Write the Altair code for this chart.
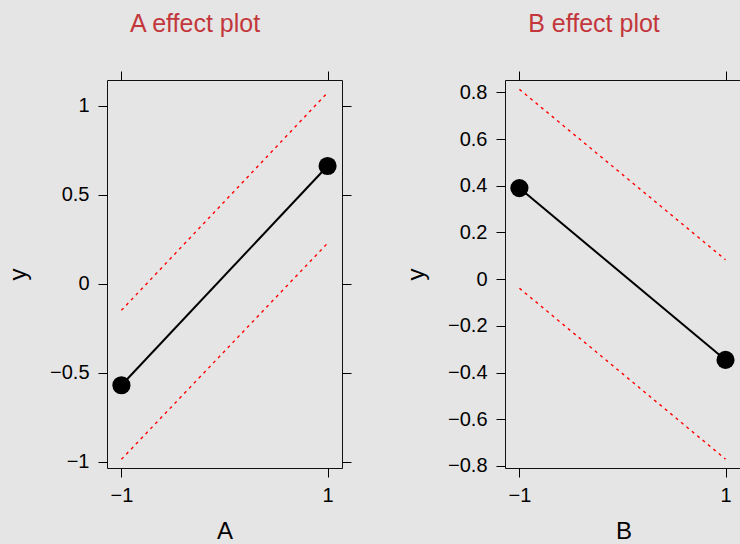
import altair as alt
import pandas as pd

# ---- data ----
x_levels = [-1, 1]

a_fit = [-0.569, 0.663]
a_lower = [-0.985, 0.229]
a_upper = [-0.148, 1.075]

b_fit = [0.390, -0.346]
b_lower = [-0.039, -0.771]
b_upper = [0.813, 0.083]

x_ticks = [-1, 1]
a_yticks = [-1, -0.5, 0, 0.5, 1]
b_yticks = [-0.8, -0.6, -0.4, -0.2, 0, 0.2, 0.4, 0.6, 0.8]

a_ydomain = [-1.034, 1.146]
b_ydomain = [-0.809, 0.853]

FONT = "Liberation Sans"
TITLE_COLOR = "#C3373C"
BG = "#E5E5E5"


def tick_axis(**kw):
    base = dict(grid=False, domain=False, ticks=True, tickSize=9, tickWidth=1,
                tickColor="black", labelFont=FONT, labelFontSize=20,
                labelColor="black", format="~g")
    base.update(kw)
    return alt.Axis(**base)


def panel(xname, title, fit, lower, upper, ydomain, yticks, width, xdomain):
    df = pd.DataFrame({"x": x_levels, "fit": fit, "lower": lower, "upper": upper})
    base = alt.Chart(df)
    xs = alt.Scale(domain=xdomain, nice=False, zero=False)
    ys = alt.Scale(domain=ydomain, nice=False, zero=False)

    x_bottom = alt.X("x:Q", scale=xs, axis=tick_axis(
        orient="bottom", values=x_ticks, labelPadding=8, title=xname,
        titleFont=FONT, titleFontSize=24, titleFontWeight="normal",
        titleColor="black", titleY=70, titleBaseline="alphabetic"))
    y_left = alt.Y("lower:Q", scale=ys, axis=tick_axis(
        orient="left", values=yticks, labelPadding=9, title="y",
        titleFont=FONT, titleFontSize=24, titleFontWeight="normal",
        titleColor="black", titleX=-82, titleAngle=270,
        titleBaseline="alphabetic"))
    x_top = alt.X("x:Q", scale=xs, axis=tick_axis(
        orient="top", values=x_ticks, labels=False, title=None))
    y_right = alt.Y("upper:Q", scale=ys, axis=tick_axis(
        orient="right", values=yticks, labels=False, title=None))

    ci_style = dict(color="#FF0000", strokeWidth=1.4, strokeDash=[3, 4])
    lower_line = base.mark_line(**ci_style).encode(x=x_bottom, y=y_left)
    upper_line = base.mark_line(**ci_style).encode(x=x_top, y=y_right)
    fit_line = base.mark_line(color="black", strokeWidth=2).encode(
        x=alt.X("x:Q", scale=xs, axis=None),
        y=alt.Y("fit:Q", scale=ys, axis=None))
    fit_pts = base.mark_circle(color="black", opacity=1, size=330).encode(
        x=alt.X("x:Q", scale=xs, axis=None),
        y=alt.Y("fit:Q", scale=ys, axis=None))

    return alt.layer(lower_line, upper_line, fit_line, fit_pts).resolve_axis(
        x="independent", y="independent"
    ).properties(
        width=width, height=388,
        title=alt.TitleParams(text=title, font=FONT, fontSize=25,
                              fontWeight="normal", color=TITLE_COLOR,
                              anchor="middle", frame="group", dx=-29.5,
                              baseline="alphabetic", offset=14),
    )


left = panel("A", "A effect plot", a_fit, a_lower, a_upper, a_ydomain,
             a_yticks, 235, [-1.14, 1.14])
right = panel("B", "B effect plot", b_fit, b_lower, b_upper, b_ydomain,
              b_yticks, 237, [-1.14, 1.16])

chart = alt.hconcat(left, right, spacing=163, bounds="flush").properties(
    autosize=alt.AutoSizeParams(type="none"),
    padding={"left": 107, "top": 80, "right": 633, "bottom": 464},
    background=BG,
).configure_view(stroke="#111111", strokeWidth=1)

chart.save("out.html", embed_options={"renderer": "svg", "actions": False})
